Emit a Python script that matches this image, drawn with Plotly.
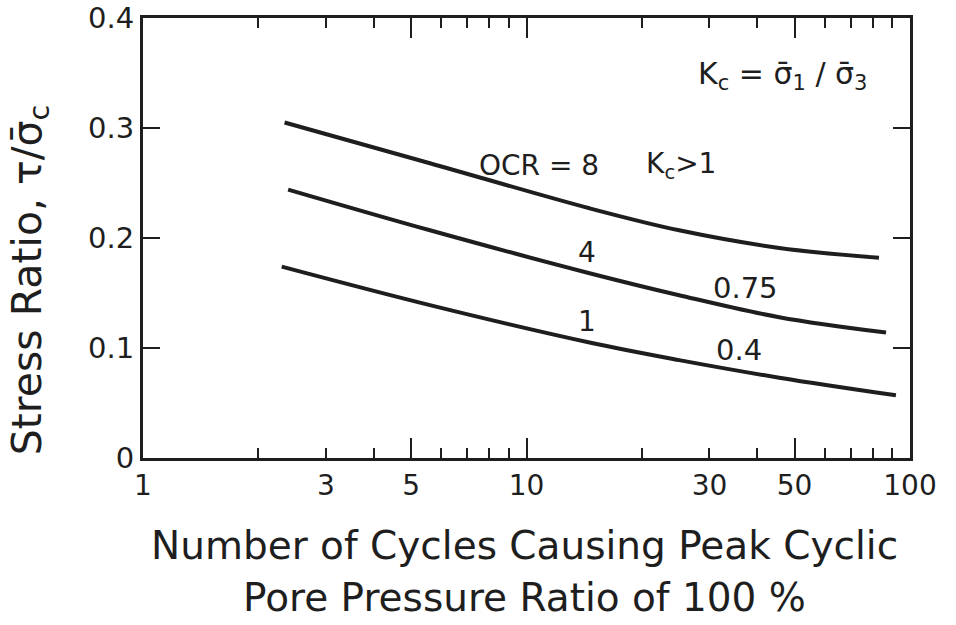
import plotly.graph_objects as go
import math

# ---- data ----
cycles_ocr8 = [2.34, 5.6, 14.6, 25.0, 45.6, 83.0]
ratio_ocr8 = [0.305, 0.268, 0.227, 0.207, 0.191, 0.182]

cycles_ocr4 = [2.39, 5.6, 14.6, 25.0, 45.6, 86.6]
ratio_ocr4 = [0.244, 0.207, 0.168, 0.148, 0.128, 0.114]

cycles_ocr1 = [2.30, 5.6, 14.6, 25.0, 45.6, 91.9]
ratio_ocr1 = [0.174, 0.139, 0.105, 0.089, 0.073, 0.057]

x_tick_vals = [1, 3, 5, 10, 30, 50, 100]
x_tick_text = ["1", "3", "5", "10", "30", "50", "100"]
x_minor_vals = [2, 3, 4, 6, 7, 8, 9, 20, 30, 40, 60, 70, 80, 90]
x_long_vals = [5, 10, 50]
y_tick_vals = [0, 0.1, 0.2, 0.3, 0.4]
y_tick_text = ["0", "0.1", "0.2", "0.3", "0.4"]

# curve labels: (text, x, y, size)
labels = [
    ("OCR = 8", 10.8, 0.266, 28),
    ("K<sub>c</sub>>1", 25.3, 0.266, 28),
    ("4", 14.4, 0.187, 28),
    ("0.75", 37.2, 0.155, 29),
    ("1", 14.4, 0.124, 28),
    ("0.4", 35.9, 0.098, 29),
    ("K<sub>c</sub> = σ\u0304<sub>1</sub> / σ\u0304<sub>3</sub>", 46.5, 0.348, 30),
]

INK = "#1e1e1e"
FONT = "DejaVu Sans"

fig = go.Figure()
for xs, ys in [(cycles_ocr8, ratio_ocr8), (cycles_ocr4, ratio_ocr4), (cycles_ocr1, ratio_ocr1)]:
    fig.add_trace(go.Scatter(x=xs, y=ys, mode="lines",
                             line=dict(color=INK, width=4, shape="spline", smoothing=1.0),
                             showlegend=False, hoverinfo="skip"))

# invisible trace on overlay axis carrying the long ticks
fig.add_trace(go.Scatter(x=[1, 100], y=[0, 0], xaxis="x2", mode="lines",
                         line=dict(width=0), showlegend=False, hoverinfo="skip"))

for text, x, y, size in labels:
    fig.add_annotation(x=math.log10(x), y=y, xref="x", yref="y", text=text,
                       showarrow=False, xanchor="center", yanchor="middle",
                       font=dict(family=FONT, size=size, color=INK))

fig.add_annotation(x=0.498, y=-0.198, xref="paper", yref="paper",
                   xanchor="center", yanchor="middle",
                   text="Number of Cycles Causing Peak Cyclic", showarrow=False,
                   font=dict(family=FONT, size=39, color=INK))
fig.add_annotation(x=0.498, y=-0.318, xref="paper", yref="paper",
                   xanchor="center", yanchor="middle",
                   text="Pore Pressure Ratio of 100 %", showarrow=False,
                   font=dict(family=FONT, size=39, color=INK))
fig.add_annotation(x=-0.148, y=0.405, xref="paper", yref="paper", textangle=-90,
                   xanchor="center", yanchor="middle",
                   text="Stress Ratio, τ/σ\u0304<sub>c</sub>", showarrow=False,
                   font=dict(family=FONT, size=41, color=INK))

fig.update_layout(
    width=956, height=625,
    margin=dict(l=143, r=46, t=18, b=167, autoexpand=False),
    paper_bgcolor="white", plot_bgcolor="white",
    font=dict(family=FONT, color=INK),
    xaxis=dict(type="log", range=[0, 2], tickvals=x_tick_vals, ticktext=x_tick_text,
               ticks="", showgrid=False, zeroline=False, automargin=False,
               showline=True, linewidth=3, linecolor=INK, mirror="ticks",
               tickfont=dict(family=FONT, size=28, color=INK),
               minor=dict(tickvals=x_minor_vals, ticks="inside", ticklen=10,
                          tickwidth=2, tickcolor=INK, showgrid=False)),
    xaxis2=dict(type="log", range=[0, 2], overlaying="x", side="bottom",
                tickvals=x_long_vals, ticks="inside", ticklen=20, tickwidth=2,
                tickcolor=INK, showticklabels=False, showgrid=False, zeroline=False,
                showline=False, mirror="ticks", automargin=False),
    yaxis=dict(range=[0, 0.4], tickvals=y_tick_vals, ticktext=y_tick_text,
               ticks="inside", ticklen=17, tickwidth=2, tickcolor=INK,
               showgrid=False, zeroline=False, showline=True, linewidth=3,
               linecolor=INK, mirror="ticks", automargin=False,
               tickfont=dict(family=FONT, size=29, color=INK)),
)

fig.write_html("out.html")
